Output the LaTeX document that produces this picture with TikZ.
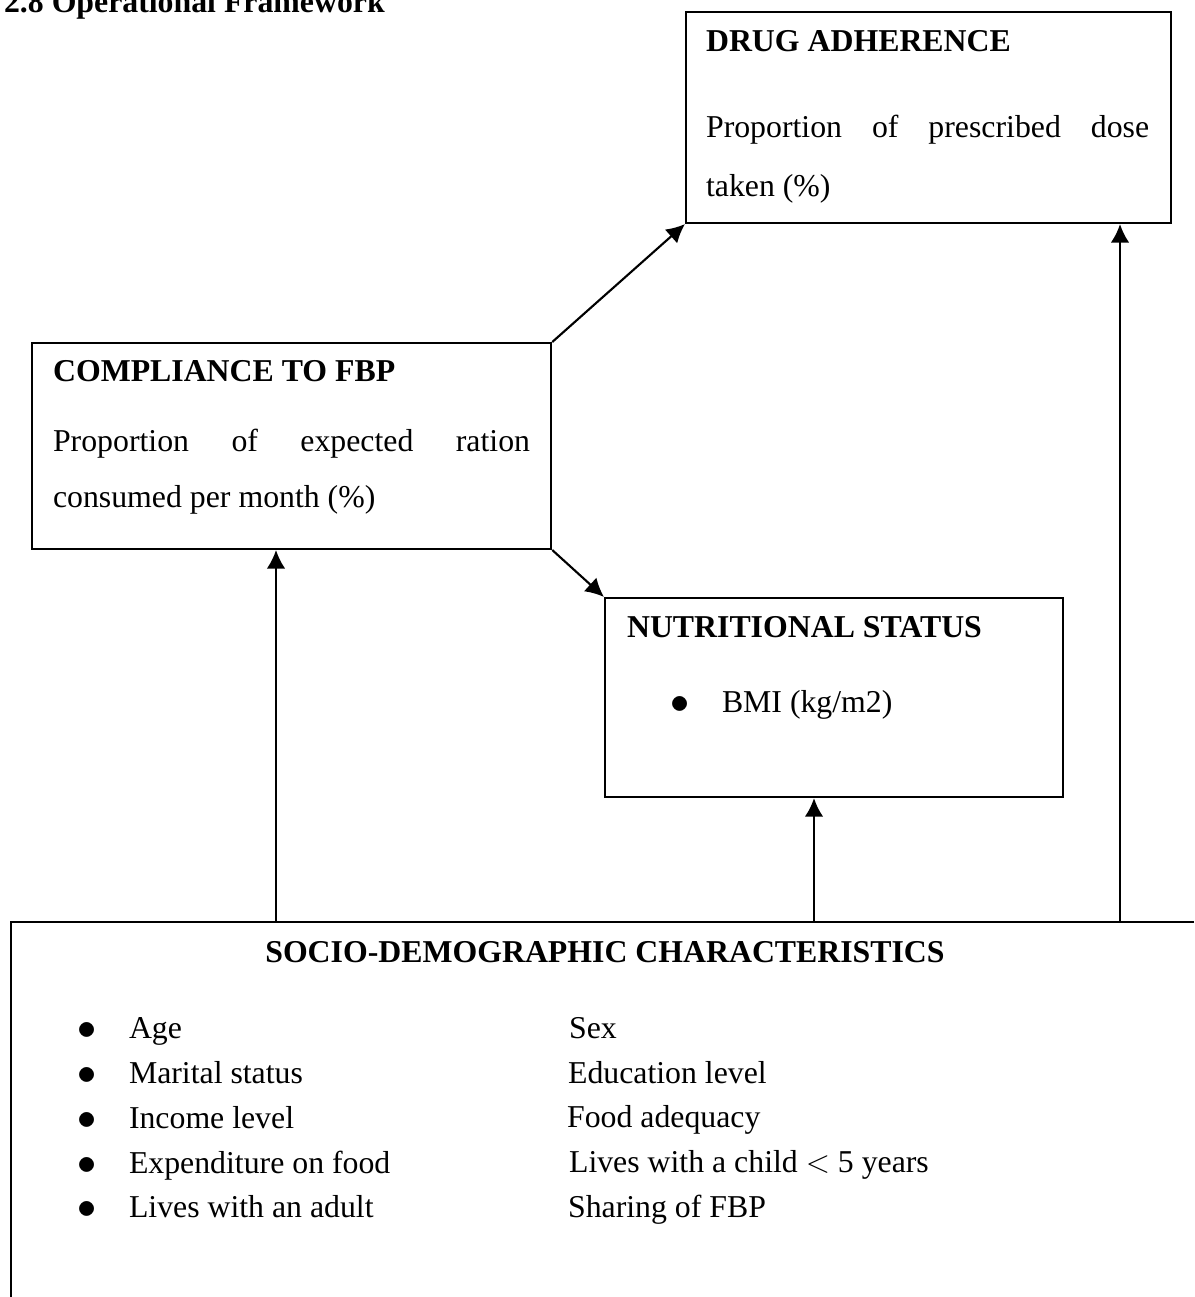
\documentclass[tikz,border=0pt]{standalone}
\usepackage{fontspec}
\setmainfont{Liberation Serif}
\usetikzlibrary{arrows.meta}

\tikzset{
  framebox/.style={draw, rectangle, inner sep=0pt, anchor=north west},
  headtext/.style={anchor=base west, inner sep=0pt, font=\bfseries},
  bodytext/.style={anchor=base west, inner sep=0pt, align=justify},
  itemtext/.style={anchor=base west, inner sep=0pt}
}
\newcommand{\bitem}[1]{\makebox[19.6pt][l]{\raisebox{-0.5pt}{\fontsize{15}{15}\selectfont$\bullet$}}#1}
\hyphenpenalty=10000
\exhyphenpenalty=10000

\begin{document}
\begin{tikzpicture}[x=0.37736pt, y=-0.37736pt, line width=0.8pt, >={Latex[length=7pt,width=7pt]}]
    \fontsize{12}{14}\selectfont
    \useasboundingbox (0,0) rectangle (1194,1297);
    \clip (0,0) rectangle (1194,1297);
    \node[headtext] (heading) at (3,13) {2.8 Operational Framework};

    \node[framebox, minimum width=183pt, minimum height=79.6pt] (drug) at (685,11) {};
    \node[headtext] (drughead) at (705,52) {DRUG ADHERENCE};
    \node[bodytext, text width=167.2pt, font=\fontsize{12}{22pt}\selectfont] (drugbody) at (705,138)
      {Proportion of prescribed dose taken (\%)};

    \node[framebox, minimum width=195.9pt, minimum height=77.7pt] (comp) at (31,342) {};
    \node[headtext] (comphead) at (52,382) {COMPLIANCE TO FBP};
    \node[bodytext, text width=180pt, font=\fontsize{12}{20.8pt}\selectfont] (compbody) at (52,452)
      {Proportion of expected ration consumed per month (\%)};

    \node[framebox, minimum width=172.8pt, minimum height=75.1pt] (nutr) at (604,597) {};
    \node[headtext] (nutrhead) at (626,637) {NUTRITIONAL STATUS};
    \node[itemtext] (bmi) at (669,712) {\bitem{BMI (kg/m2)}};

    \draw (1194,922) -- (11,922) -- (11,1297);
    \coordinate (s1) at (276,922);
    \coordinate (s2) at (814,922);
    \coordinate (s3) at (1120,922);
    \node[headtext, anchor=base] (sociohead) at (605,962) {SOCIO-DEMOGRAPHIC CHARACTERISTICS};

    \node[itemtext] (age) at (76,1038) {\bitem{Age}};
    \node[itemtext] (marital) at (76,1083) {\bitem{Marital status}};
    \node[itemtext] (income) at (76,1128) {\bitem{Income level}};
    \node[itemtext] (expend) at (76,1173) {\bitem{Expenditure on food}};
    \node[itemtext] (adult) at (76,1217) {\bitem{Lives with an adult}};
    \node[itemtext] (sex) at (568,1038) {Sex};
    \node[itemtext] (educ) at (567,1083) {Education level};
    \node[itemtext] (food) at (566,1127) {Food adequacy};
    \node[itemtext] (child) at (568,1172) {Lives with a child $<$ 5 years};
    \node[itemtext] (share) at (567,1217) {Sharing of FBP};

    \path[->]
    (comp.north east) edge (drug.south west)
    (comp.south east) edge (nutr.north west)
    (s1) edge (s1 |- comp.south)
    (s2) edge (s2 |- nutr.south)
    (s3) edge (s3 |- drug.south);
  \end{tikzpicture}
\end{document}
